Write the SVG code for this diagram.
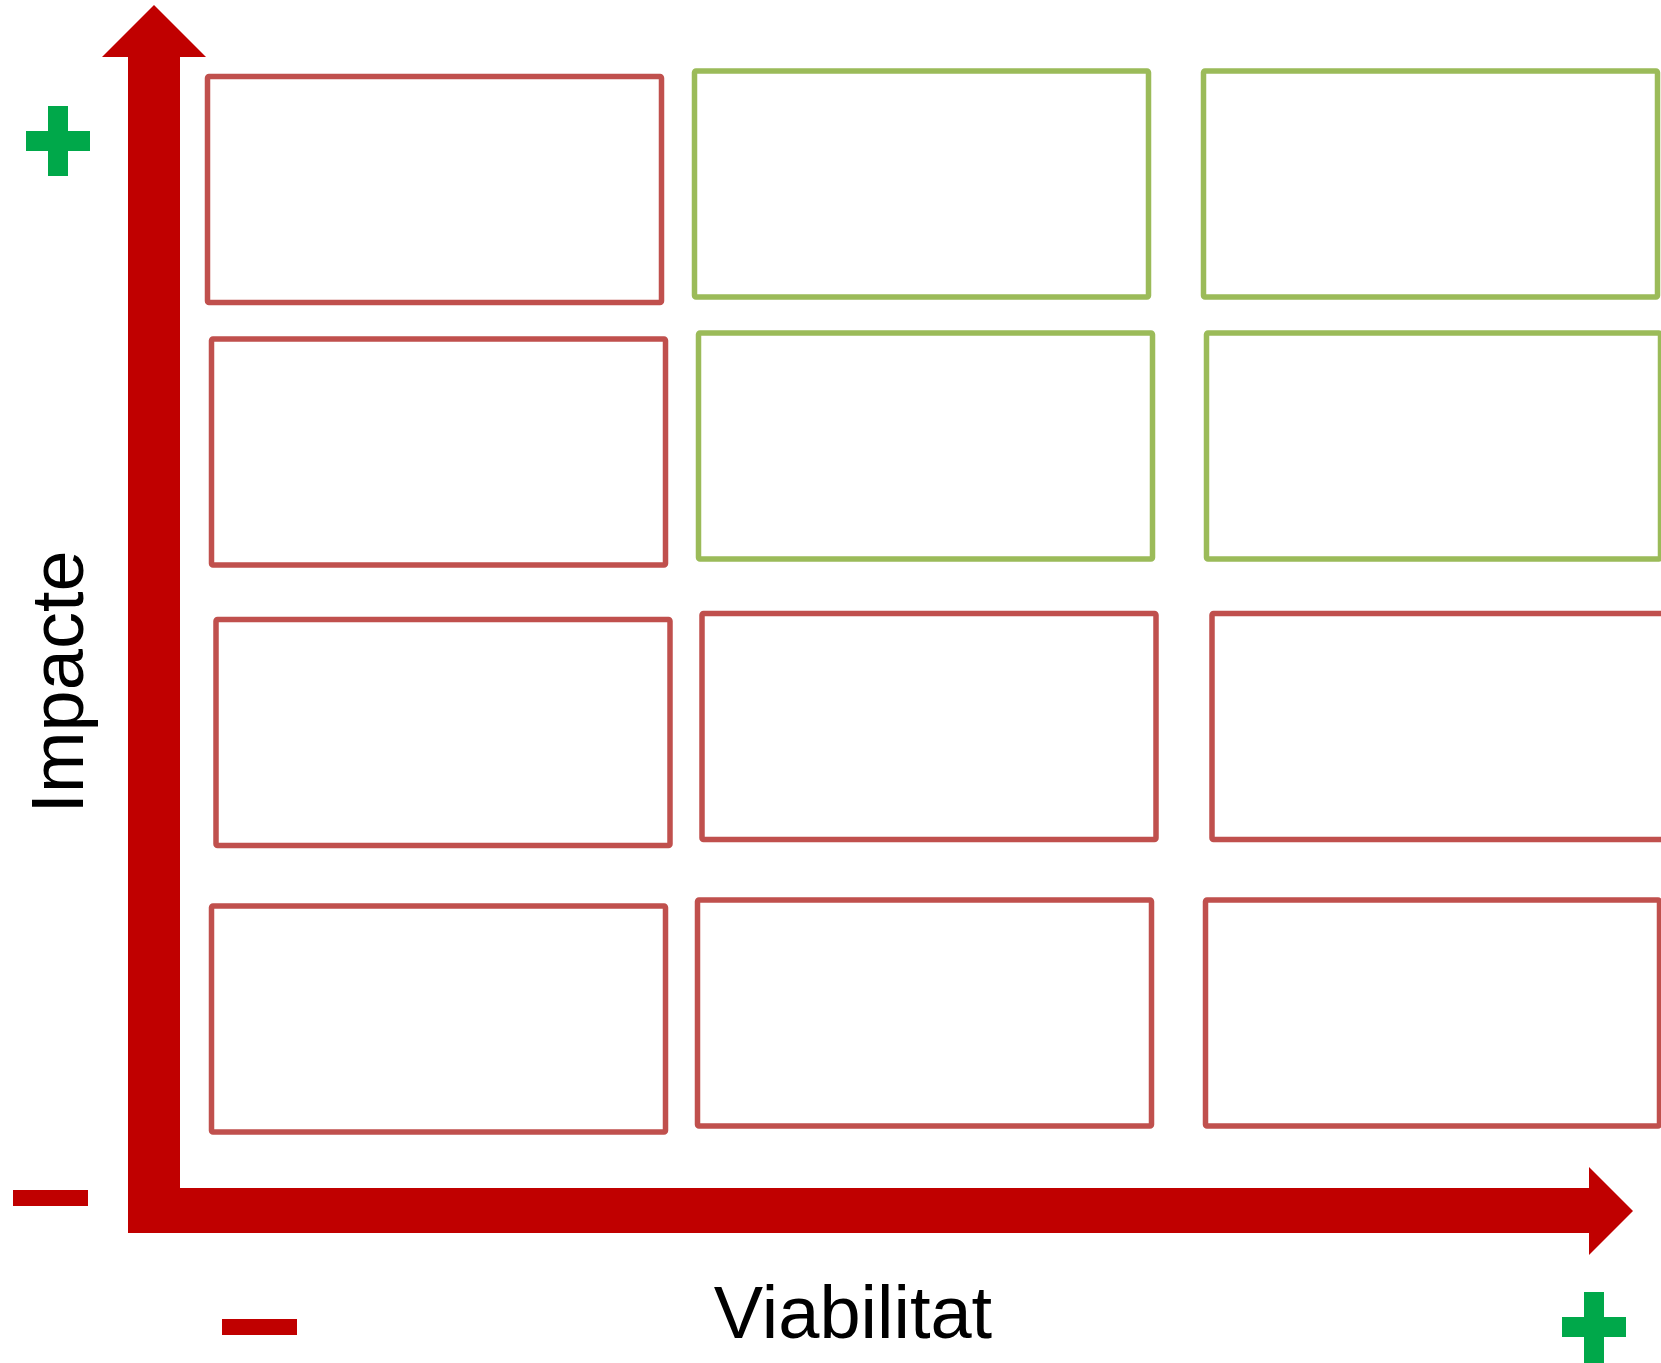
<svg xmlns="http://www.w3.org/2000/svg" width="1661" height="1363" viewBox="0 0 1661 1363">
<style>
.box{fill:#FFFFFF;stroke-width:5.5}
.red{stroke:#C0504D}
.green{stroke:#9BBB59}
.axis{fill:#C00000}
.plus{fill:#00A84A}
.minus{fill:#C00000}
.lbl{font-family:"Liberation Sans",Arial,sans-serif;font-size:74px;fill:#000000}
</style>
<rect x="0" y="0" width="1661" height="1363" fill="#FFFFFF"/>
<g id="nodes">
<g id="r1c1"><rect class="box red" x="207.5" y="76.5" width="454" height="226" rx="1.5"/></g>
<g id="r1c2"><rect class="box green" x="694.5" y="71" width="454" height="226" rx="1.5"/></g>
<g id="r1c3"><rect class="box green" x="1203.5" y="71" width="454" height="226" rx="1.5"/></g>
<g id="r2c1"><rect class="box red" x="211.5" y="339" width="454" height="226" rx="1.5"/></g>
<g id="r2c2"><rect class="box green" x="698.5" y="333" width="454" height="226" rx="1.5"/></g>
<g id="r2c3"><rect class="box green" x="1206.5" y="333" width="454" height="226" rx="1.5"/></g>
<g id="r3c1"><rect class="box red" x="216" y="619.5" width="454" height="226" rx="1.5"/></g>
<g id="r3c2"><rect class="box red" x="702" y="613.5" width="454" height="226" rx="1.5"/></g>
<g id="r3c3"><rect class="box red" x="1212" y="613.5" width="454" height="226" rx="1.5"/></g>
<g id="r4c1"><rect class="box red" x="211.5" y="906" width="454" height="226" rx="1.5"/></g>
<g id="r4c2"><rect class="box red" x="697.5" y="900" width="454" height="226" rx="1.5"/></g>
<g id="r4c3"><rect class="box red" x="1205.5" y="900" width="454" height="226" rx="1.5"/></g>
</g>
<g id="connectors">
<polygon class="axis" points="154,5 206,57 180,57 180,1188 1589,1188 1589,1167 1633,1211 1589,1255 1589,1233 128,1233 128,57 102,57"/>
</g>
<g id="signs">
<g id="plus-top"><rect class="plus" x="26" y="131" width="64" height="20"/><rect class="plus" x="48" y="106" width="20" height="70"/></g>
<g id="plus-right"><rect class="plus" x="1562" y="1317" width="64" height="20"/><rect class="plus" x="1584" y="1292" width="20" height="71"/></g>
<rect class="minus" x="13" y="1190" width="75" height="16"/>
<rect class="minus" x="222" y="1319" width="75" height="16"/>
</g>
<g id="labels">
<text class="lbl" x="853" y="1338" text-anchor="middle">Viabilitat</text>
<text class="lbl" transform="translate(83,682) rotate(-90)" x="0" y="0" text-anchor="middle">Impacte</text>
</g>
</svg>
